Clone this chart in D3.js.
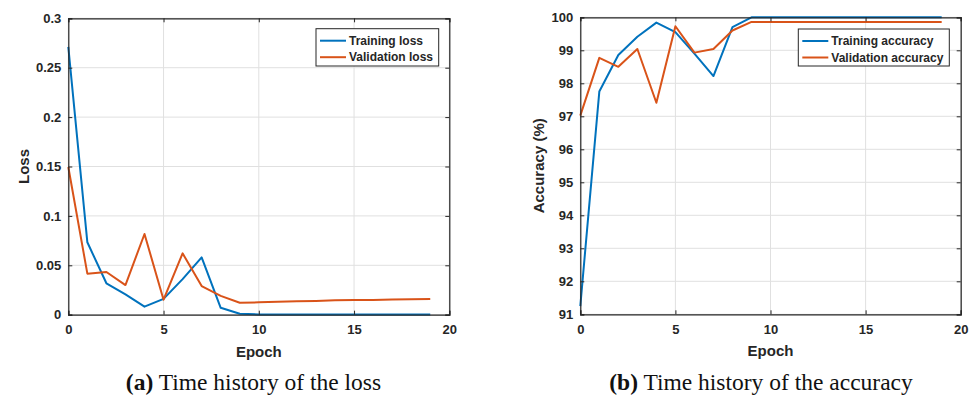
<!DOCTYPE html>
<html>
<head>
<meta charset="utf-8">
<script src="https://cdn.jsdelivr.net/npm/d3@7"></script>
<style>
  body { margin: 0; background: #fff; }
  svg { display: block; }
  .tick text { font-family: "Liberation Sans", Arial, sans-serif; font-weight: bold; fill: #262626; }
</style>
</head>
<body>
<svg id="chart" width="975" height="396"></svg>
<script>
const epochs = d3.range(0, 20);
const trainingLoss = [0.271, 0.0733, 0.0318, 0.0205, 0.0081, 0.016, 0.036, 0.058, 0.007, 0.001,
  0.0003, 0.0002, 0.0002, 0.0002, 0.0002, 0.0002, 0.0002, 0.0002, 0.0002, 0.0002];
const validationLoss = [0.1495, 0.0415, 0.0432, 0.030, 0.0817, 0.0152, 0.0621, 0.029, 0.019, 0.0121,
  0.0125, 0.013, 0.0135, 0.0138, 0.0145, 0.0148, 0.015, 0.0153, 0.0156, 0.016];
const trainingAcc = [91.25, 97.75, 98.86, 99.41, 99.84, 99.55, 98.9, 98.22, 99.7, 100,
  100, 100, 100, 100, 100, 100, 100, 100, 100, 100];
const validationAcc = [97.02, 98.77, 98.5, 99.04, 97.41, 99.73, 98.93, 99.04, 99.6, 99.86,
  99.86, 99.86, 99.86, 99.86, 99.86, 99.86, 99.86, 99.86, 99.86, 99.86];
const xTicks = [0, 5, 10, 15, 20];
const lossTicks = [0, 0.05, 0.1, 0.15, 0.2, 0.25, 0.3];
const accTicks = [91, 92, 93, 94, 95, 96, 97, 98, 99, 100];
const lossLegend = ["Training loss", "Validation loss"];
const accLegend = ["Training accuracy", "Validation accuracy"];
const captions = [["(a)", " Time history of the loss"], ["(b)", " Time history of the accuracy"]];

const colors = ["#0072BD", "#D95319"];
const svg = d3.select("#chart");
const axisColor = "#262626";
const fontSans = '"Liberation Sans", Arial, sans-serif';

function panel(cfg) {
  const {x0, x1, y0, y1, yDomain, yTicks, yFmt, series, legend, legendBox, ylabel, ylabelX, caption, captionX} = cfg;
  const x = d3.scaleLinear().domain([0, 20]).range([x0, x1]);
  const y = d3.scaleLinear().domain(yDomain).range([y1, y0]);
  const g = svg.append("g");

  // grid
  g.append("g").selectAll("line").data(xTicks).join("line")
    .attr("x1", d => x(d)).attr("x2", d => x(d)).attr("y1", y0).attr("y2", y1)
    .attr("stroke", "#e0e0e0").attr("stroke-width", 1);
  g.append("g").selectAll("line").data(yTicks).join("line")
    .attr("x1", x0).attr("x2", x1).attr("y1", d => y(d)).attr("y2", d => y(d))
    .attr("stroke", "#e0e0e0").attr("stroke-width", 1);

  // lines
  const line = d3.line().x((d, i) => x(epochs[i])).y(d => y(d));
  series.forEach((s, k) => {
    g.append("path").datum(s).attr("d", line).attr("fill", "none")
      .attr("stroke", colors[k]).attr("stroke-width", 2).attr("stroke-linejoin", "round");
  });

  // axes
  const tickLen = 4;
  const bottom = g.append("g").attr("transform", `translate(0,${y1})`)
    .call(d3.axisBottom(x).tickValues(xTicks).tickSize(-tickLen).tickPadding(10).tickFormat(d3.format("d")));
  const top = g.append("g").attr("transform", `translate(0,${y0})`)
    .call(d3.axisTop(x).tickValues(xTicks).tickSize(-tickLen).tickFormat(""));
  const left = g.append("g").attr("transform", `translate(${x0},0)`)
    .call(d3.axisLeft(y).tickValues(yTicks).tickSize(-tickLen).tickPadding(7).tickFormat(yFmt));
  const right = g.append("g").attr("transform", `translate(${x1},0)`)
    .call(d3.axisRight(y).tickValues(yTicks).tickSize(-tickLen).tickFormat(""));
  [bottom, top, left, right].forEach(a => {
    a.attr("font-family", fontSans);
    a.selectAll(".domain").attr("stroke", axisColor).attr("stroke-width", 1.2);
    a.selectAll(".tick line").attr("stroke", axisColor);
    a.selectAll(".tick text").attr("font-size", 13).attr("fill", axisColor);
  });
  bottom.selectAll(".tick text").attr("dy", "0.71em");

  // axis titles
  g.append("text").attr("x", (x0 + x1) / 2).attr("y", y1 + 42)
    .attr("text-anchor", "middle").attr("font-family", fontSans).attr("font-weight", "bold")
    .attr("font-size", 15).attr("fill", axisColor).text("Epoch");
  g.append("text").attr("transform", `translate(${ylabelX},${(y0 + y1) / 2}) rotate(-90)`)
    .attr("text-anchor", "middle").attr("font-family", fontSans).attr("font-weight", "bold")
    .attr("font-size", 15).attr("fill", axisColor).text(ylabel);

  // legend
  const [lx0, ly0, lx1, ly1] = legendBox;
  g.append("rect").attr("x", lx0).attr("y", ly0).attr("width", lx1 - lx0).attr("height", ly1 - ly0)
    .attr("fill", "#fff").attr("stroke", axisColor).attr("stroke-width", 1);
  legend.forEach((t, k) => {
    const yy = ly0 + 12 + k * 16.5;
    g.append("line").attr("x1", lx0 + 4).attr("x2", lx0 + 30).attr("y1", yy).attr("y2", yy)
      .attr("stroke", colors[k]).attr("stroke-width", 2);
    g.append("text").attr("x", lx0 + 33).attr("y", yy).attr("dy", "0.35em")
      .attr("font-family", fontSans).attr("font-weight", "bold").attr("font-size", 12)
      .attr("fill", axisColor).text(t);
  });

  // caption
  const cap = g.append("text").attr("x", captionX).attr("y", 390).attr("text-anchor", "middle")
    .attr("font-family", '"Liberation Serif", "Times New Roman", serif').attr("font-size", 23.5).attr("fill", "#111");
  cap.append("tspan").attr("font-weight", "bold").text(caption[0]);
  cap.append("tspan").text(caption[1]);
}

panel({
  x0: 68.3, x1: 449.3, y0: 18.3, y1: 314.7,
  yDomain: [0, 0.3], yTicks: lossTicks, yFmt: d => d3.format("")(+d.toFixed(2)),
  series: [trainingLoss, validationLoss], legend: lossLegend,
  legendBox: [316, 28.7, 438.7, 66], ylabel: "Loss", ylabelX: 29,
  caption: captions[0], captionX: 253.5
});
panel({
  x0: 580.3, x1: 960.7, y0: 17.3, y1: 314.3,
  yDomain: [91, 100], yTicks: accTicks, yFmt: d3.format("d"),
  series: [trainingAcc, validationAcc], legend: accLegend,
  legendBox: [798.3, 29, 949.3, 66], ylabel: "Accuracy (%)", ylabelX: 543.5,
  caption: captions[1], captionX: 761
});
</script>
</body>
</html>
